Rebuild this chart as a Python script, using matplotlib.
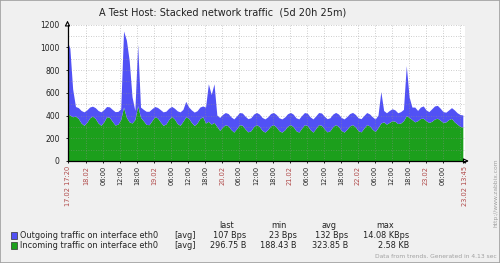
import numpy as np
import pandas as pd
import matplotlib
matplotlib.use("Agg")
import matplotlib.pyplot as plt
from matplotlib.patches import Rectangle

# hourly trend values (B/s)
incoming = [412, 400, 385, 390, 370, 330, 310, 335, 375, 390, 370, 330, 310, 340, 385, 380, 345, 312, 320, 360,
            470, 380, 340, 330, 360, 482, 380,
            350, 318, 315, 350, 385, 375, 340, 310, 322, 362, 388, 365, 325, 310, 345, 385, 372, 335, 308, 330, 370, 385,
            330, 345, 320, 335, 300,
            265, 295, 315, 305, 272, 250, 280, 315, 310, 278, 252, 262, 298, 316, 300, 265, 250, 272, 305, 316, 295, 262,
            250, 270, 302, 316, 298, 262, 250, 285, 315, 308, 272, 250, 282, 315, 310, 278, 252, 262, 298, 316, 300, 265,
            250, 275, 305, 316, 295, 262, 252, 285,
            315, 305, 275, 255, 290, 330, 340, 320, 335, 350, 345, 325, 330, 350, 394, 380, 360, 340, 350, 370, 372, 350,
            335, 345, 365, 372, 355, 335, 340, 360, 370, 340, 320, 300, 295]
outgoing = [642, 590, 245, 85, 95, 110, 118, 110, 95, 88, 95, 110, 118, 108, 90, 92, 105, 118, 112, 95,
            669, 680, 540, 230, 80, 540, 90,
            100, 115, 118, 105, 90, 92, 108, 118, 112, 98, 88, 95, 112, 118, 105, 135, 100, 110, 118, 108, 100, 95,
            140, 330, 260, 340, 100,
            114, 110, 107, 108, 112, 116, 112, 107, 108, 112, 116, 114, 110, 107, 109, 114, 116, 112, 108, 107, 110, 114,
            116, 113, 109, 107, 110, 114, 116, 111, 107, 108, 112, 116, 111, 107, 108, 112, 116, 114, 110, 107, 109, 114,
            116, 112, 108, 107, 110, 114, 116, 111,
            107, 105, 110, 110, 110, 277, 100, 100, 105, 105, 100, 95, 100, 100, 441, 180, 110, 130, 90, 100, 108, 95,
            95, 110, 115, 113, 105, 95, 85, 85, 95, 105, 100, 105, 105]

legend_names = ["Outgoing traffic on interface eth0", "Incoming traffic on interface eth0"]
stat_cols = ["last", "min", "avg", "max"]
stat_vals = [["107 Bps", "23 Bps", "132 Bps", "14.08 KBps"],
             ["296.75 B", "188.43 B", "323.85 B", "2.58 KB"]]

start = pd.Timestamp("2011-02-17 17:20")
end = start + pd.Timedelta(days=5, hours=20, minutes=25)

W, H = 500, 263
blue = "#5151f5"
green = "#1c9f1c"
daycol = "#b04848"

def fx(px):
    return px / W

def fy(py):
    return 1 - py / H

fig = plt.figure(figsize=(5, 2.63), dpi=100, facecolor="#f0f0f0")
ax = fig.add_axes([fx(67.5), fy(161), 397 / W, (161 - 24.6) / H])
ax.set_facecolor("white")

x = np.arange(len(incoming))
ax.stackplot(x, incoming, outgoing, colors=[green, blue], linewidth=0, zorder=1)

total = (end - start) / pd.Timedelta(hours=1)
ax.set_xlim(0, total)
ax.set_ylim(0, 1200)

# grid (drawn on top of the areas, like zabbix)
for v in range(100, 1201, 100):
    ax.axhline(v, color="#909090", lw=0.6, ls=(0, (1, 2)), alpha=0.6, zorder=2)

grid_times = pd.date_range("2011-02-18 00:00", end, freq="6h")
pos = [0.0]
labs = ["17.02 17:20"]
cols = [daycol]
for t in grid_times:
    h = (t - start) / pd.Timedelta(hours=1)
    ax.axvline(h, color="#909090", lw=0.6, ls=(0, (1, 2)), alpha=0.6, zorder=2)
    if total - h < 3:
        continue
    pos.append(h)
    if t.hour == 0:
        labs.append(t.strftime("%d.%m"))
        cols.append(daycol)
    else:
        labs.append(t.strftime("%H:%M"))
        cols.append("#222222")
pos.append(total)
labs.append(end.strftime("%d.%m %H:%M"))
cols.append(daycol)

ax.set_xticks(pos)
ax.set_xticklabels(labs, rotation=90, fontsize=4.8)
for lab, c in zip(ax.get_xticklabels(), cols):
    lab.set_color(c)
ax.set_yticks(range(0, 1201, 200))
ax.set_yticklabels([str(v) for v in range(0, 1201, 200)], fontsize=5.5, color="#222222")
ax.tick_params(axis="x", length=1.5, pad=2, width=0.6)
ax.tick_params(axis="y", length=1.5, pad=4, width=0.6)

for s in ["top", "right"]:
    ax.spines[s].set_visible(False)
for s in ["left", "bottom"]:
    ax.spines[s].set_linewidth(0.9)
    ax.spines[s].set_zorder(3)

# axis arrows
ax.annotate("", xy=(0, 1.05), xytext=(0, 0.99), xycoords="axes fraction",
            arrowprops=dict(arrowstyle="-|>,head_length=0.3,head_width=0.15", color="black", fc="white", lw=0.8),
            annotation_clip=False)
ax.annotate("", xy=(1.018, 0), xytext=(0.99, 0), xycoords="axes fraction",
            arrowprops=dict(arrowstyle="-|>,head_length=0.3,head_width=0.15", color="black", fc="white", lw=0.8),
            annotation_clip=False)

fig.text(fx(223), fy(12.5), "A Test Host: Stacked network traffic  (5d 20h 25m)",
         ha="center", va="center", fontsize=7.0, color="#222222")

# legend with stats
row_y = [235.7, 245]
fs = 5.9
fig.text(fx(226.5), fy(226), stat_cols[0], ha="center", va="center", fontsize=fs, color="#222222")
fig.text(fx(278.5), fy(226), stat_cols[1], ha="center", va="center", fontsize=fs, color="#222222")
fig.text(fx(329), fy(226), stat_cols[2], ha="center", va="center", fontsize=fs, color="#222222")
fig.text(fx(385.5), fy(226), stat_cols[3], ha="center", va="center", fontsize=fs, color="#222222")
val_right = [246, 297, 348, 409]
for i, (name, c) in enumerate(zip(legend_names, [blue, green])):
    fig.patches.append(Rectangle((fx(10.5), fy(row_y[i] + 3.5)), 6.5 / W, 7 / H, transform=fig.transFigure,
                                 facecolor=c, edgecolor="#333333", lw=0.5))
    fig.text(fx(20.5), fy(row_y[i]), name, ha="left", va="center", fontsize=fs, color="#222222")
    fig.text(fx(174), fy(row_y[i]), "[avg]", ha="left", va="center", fontsize=fs, color="#222222")
    for j, v in enumerate(stat_vals[i]):
        fig.text(fx(val_right[j]), fy(row_y[i]), v, ha="right", va="center", fontsize=fs, color="#222222")

fig.text(fx(497), fy(257), "Data from trends. Generated in 4.13 sec", ha="right", va="center",
         fontsize=4.3, color="#a0a0a0")
fig.text(fx(496), fy(193), "http://www.zabbix.com", ha="center", va="center", rotation=90,
         fontsize=4.3, color="#a0a0a0")

fig.patches.append(Rectangle((0, 0), 1, 1, transform=fig.transFigure, fill=False,
                             edgecolor="#a0a0a0", lw=1.2))

fig.savefig("out.png", dpi=100, facecolor=fig.get_facecolor())
